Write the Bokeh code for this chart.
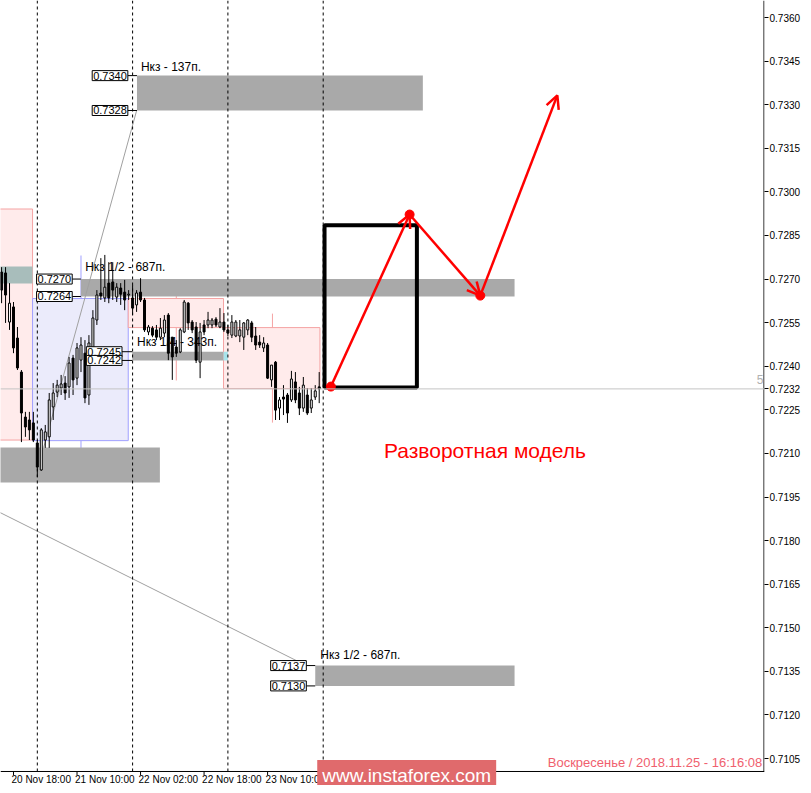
from bokeh.plotting import figure
from bokeh.models import (Range1d, FixedTicker, PrintfTickFormatter, Label, Arrow,
                          OpenHead, ColumnDataSource, Span)
from bokeh.core.properties import value
from bokeh.embed import file_html
from bokeh.resources import INLINE

# ---------------- data (time in hours from 20 Nov 00:00, prices) ----------------
hours = list(range(15, 96))
opens = [0.72724, 0.72721, 0.72552, 0.72604, 0.72497, 0.72380, 0.72225, 0.72215, 0.72205, 0.72136,
         0.72043, 0.72146, 0.72157, 0.72260, 0.72311, 0.72325, 0.72342, 0.72329, 0.72428, 0.72359,
         0.72421, 0.72445, 0.72301, 0.72456, 0.72559, 0.72652, 0.72635, 0.72686, 0.72690, 0.72638,
         0.72669, 0.72655, 0.72645, 0.72635, 0.72611, 0.72655, 0.72628, 0.72518, 0.72531, 0.72525,
         0.72500, 0.72514, 0.72576, 0.72500, 0.72466, 0.72449, 0.72518, 0.72617, 0.72552, 0.72535,
         0.72414, 0.72542, 0.72542, 0.72542, 0.72562, 0.72535, 0.72552, 0.72525, 0.72507, 0.72504,
         0.72504, 0.72500, 0.72525, 0.72549, 0.72504, 0.72483, 0.72463, 0.72473, 0.72353, 0.72414,
         0.72256, 0.72294, 0.72301, 0.72284, 0.72346, 0.72308, 0.72256, 0.72301, 0.72256, 0.72294,
         0.72329]
highs = [0.72741, 0.72741, 0.72686, 0.72621, 0.72535, 0.72387, 0.72243, 0.72243, 0.72243, 0.72146,
         0.72187, 0.72198, 0.72308, 0.72342, 0.72353, 0.72370, 0.72366, 0.72432, 0.72439, 0.72480,
         0.72500, 0.72490, 0.72507, 0.72593, 0.72662, 0.72772, 0.72783, 0.72758, 0.72758, 0.72686,
         0.72686, 0.72697, 0.72662, 0.72679, 0.72662, 0.72703, 0.72635, 0.72542, 0.72538, 0.72542,
         0.72566, 0.72576, 0.72583, 0.72500, 0.72490, 0.72531, 0.72628, 0.72621, 0.72559, 0.72552,
         0.72549, 0.72559, 0.72587, 0.72566, 0.72569, 0.72600, 0.72583, 0.72542, 0.72576, 0.72559,
         0.72559, 0.72552, 0.72562, 0.72556, 0.72535, 0.72507, 0.72500, 0.72480, 0.72404, 0.72418,
         0.72294, 0.72335, 0.72308, 0.72384, 0.72380, 0.72329, 0.72363, 0.72325, 0.72325, 0.72335,
         0.72380]
lows = [0.72617, 0.72549, 0.72525, 0.72445, 0.72387, 0.72139, 0.72157, 0.72146, 0.72139, 0.72019,
        0.72040, 0.72119, 0.72119, 0.72215, 0.72294, 0.72301, 0.72284, 0.72291, 0.72301, 0.72335,
        0.72380, 0.72273, 0.72267, 0.72439, 0.72542, 0.72628, 0.72621, 0.72617, 0.72628, 0.72621,
        0.72611, 0.72593, 0.72628, 0.72576, 0.72587, 0.72621, 0.72518, 0.72507, 0.72500, 0.72490,
        0.72490, 0.72500, 0.72421, 0.72353, 0.72432, 0.72445, 0.72514, 0.72525, 0.72514, 0.72411,
        0.72359, 0.72507, 0.72531, 0.72531, 0.72535, 0.72531, 0.72518, 0.72504, 0.72497, 0.72500,
        0.72483, 0.72456, 0.72507, 0.72483, 0.72456, 0.72463, 0.72449, 0.72356, 0.72329, 0.72215,
        0.72215, 0.72232, 0.72205, 0.72277, 0.72273, 0.72232, 0.72243, 0.72232, 0.72239, 0.72284,
        0.72273]
closes = [0.72662, 0.72645, 0.72617, 0.72463, 0.72394, 0.72239, 0.72191, 0.72181, 0.72146, 0.72053,
          0.72181, 0.72174, 0.72284, 0.72308, 0.72335, 0.72339, 0.72308, 0.72411, 0.72353, 0.72463,
          0.72473, 0.72291, 0.72480, 0.72566, 0.72645, 0.72642, 0.72672, 0.72635, 0.72662, 0.72672,
          0.72648, 0.72628, 0.72648, 0.72600, 0.72652, 0.72628, 0.72525, 0.72535, 0.72507, 0.72500,
          0.72531, 0.72559, 0.72445, 0.72432, 0.72445, 0.72525, 0.72621, 0.72549, 0.72525, 0.72421,
          0.72518, 0.72518, 0.72559, 0.72559, 0.72542, 0.72552, 0.72525, 0.72514, 0.72552, 0.72552,
          0.72525, 0.72549, 0.72559, 0.72500, 0.72473, 0.72473, 0.72480, 0.72359, 0.72404, 0.72249,
          0.72284, 0.72287, 0.72239, 0.72356, 0.72284, 0.72256, 0.72335, 0.72239, 0.72284, 0.72315,
          0.72322]

x_tick_hours = [18, 34, 50, 66, 82]
x_tick_labels = ["20 Nov 18:00", "21 Nov 10:00", "22 Nov 02:00", "22 Nov 18:00", "23 Nov 10:00"]
day_separators = [24, 48, 72, 96]
y_ticks = [0.7105, 0.7120, 0.7135, 0.7150, 0.7165, 0.7180, 0.7195, 0.7210, 0.7225, 0.7240,
           0.7255, 0.7270, 0.7285, 0.7300, 0.7315, 0.7330, 0.7345, 0.7360]

# zones (start hour, end hour, upper price, lower price)
zone_start = [49.1, 34.97, 47.9, 94.0, 14.0]
zone_end = [121.1, 144.2, 70.9, 144.2, 54.87]
zone_top = [0.7340, 0.7270, 0.7245, 0.7137, 0.7212]
zone_bottom = [0.7328, 0.7264, 0.7242, 0.7130, 0.7200]
zone_names = ["Нкз - 137п.", "Нкз 1/2 - 687п.", "Нкз 1/4 - 343п.", "Нкз 1/2 - 687п.", ""]
zone_label_end = [46.8, 32.79, 45.33, 91.75, None]
zone_name_pos = [(50.1, 0.73431), (36.05, 0.72740), (49.1, 0.72485), (95.25, 0.71405)]

# daily candle overlay boxes (start, end, top, bottom) and wicks
day_start = [10.0, 22.8, 46.9, 70.9]
day_end = [22.8, 46.9, 70.9, 95.18]
day_top = [0.72941, 0.72633, 0.72633, 0.72533]
day_bottom = [0.72146, 0.72144, 0.72533, 0.72323]
day_fill = ["#ffebeb", "#ebebfb", "#ffebeb", "#ffebeb"]
day_line = ["#f5a3a3", "#a0a0ff", "#f5a3a3", "#f5a3a3"]
day_wick_t = [35.0, 59.0, 83.22]
day_wick_hi = [0.72781, 0.72692, 0.72581]
day_wick_lo = [0.72053, 0.72351, 0.72206]
day_wick_color = ["#a0a0ff", "#f5a3a3", "#f5a3a3"]

# trend lines (start hour, start price, end hour, end price)
tl_t0 = [10.0, 25.59]
tl_p0 = [0.71928, 0.72120]
tl_t1 = [91.75, 49.02]
tl_p1 = [0.7137, 0.7328]

# forecast pattern
pattern_t = [97.94, 117.77, 135.57, 154.97]
pattern_p = [0.72330, 0.72922, 0.72643, 0.73332]
box_t = [96.34, 119.6]
box_p = [0.72885, 0.72327]

FONT = "Liberation Sans"
X0, X1 = 14.727, 207.15
Y0, Y1 = 0.709573, 0.736585
AXIS_Y = 0.710055

p = figure(width=803, height=785, x_range=Range1d(X0, X1), y_range=Range1d(Y0, Y1),
           y_axis_location="right", x_axis_location=None,
           output_backend="svg", toolbar_location=None,
           min_border_left=0, min_border_top=0, min_border_right=36, min_border_bottom=0)
p.outline_line_color = None
p.grid.visible = False
p.background_fill_color = "white"
p.border_fill_color = "white"

# right price axis
p.yaxis.ticker = FixedTicker(ticks=y_ticks + [closes[-1]])
p.yaxis.formatter = PrintfTickFormatter(format="%.4f")
p.yaxis.major_tick_out = 4
p.yaxis.major_tick_in = 0
p.yaxis.minor_tick_line_color = None
p.yaxis.major_label_standoff = 1
p.yaxis.major_label_text_font = FONT
p.yaxis.major_label_text_font_size = "10px"
p.yaxis.major_label_text_color = "black"
p.yaxis.axis_line_color = None

# daily overlay wicks and boxes
p.segment(x0=day_wick_t, y0=day_wick_lo, x1=day_wick_t, y1=day_wick_hi,
          line_color=day_wick_color, line_width=1)
p.quad(left=day_start, right=day_end, top=day_top, bottom=day_bottom,
       fill_color=day_fill, line_color=day_line, line_width=1)
p.quad(left=[10.0], right=[22.8], top=[0.72743], bottom=[0.72685],
       fill_color="#a8bdbb", line_color=None)

# zones
p.quad(left=zone_start, right=zone_end, top=zone_top, bottom=zone_bottom,
       fill_color="#a9a9a9", line_color=None)
p.quad(left=[70.9], right=[72.0], top=[0.7245], bottom=[0.7242],
       fill_color="#a8e4ec", line_color=None)

# current price line
p.add_layout(Span(location=closes[-1], dimension="width", line_color="#c4c4c4", line_width=1))

# trend lines
p.segment(x0=tl_t0, y0=tl_p0, x1=tl_t1, y1=tl_p1, line_color="#a0a0a0", line_width=1)

# day separators
p.segment(x0=day_separators, y0=[AXIS_Y] * len(day_separators), x1=day_separators,
          y1=[Y1] * len(day_separators), line_color="black", line_width=1, line_dash="3 3")

# candles
fills = ["white" if c >= o else "black" for o, c in zip(opens, closes)]
src = ColumnDataSource(dict(h=hours, o=opens, hi=highs, lo=lows, c=closes,
                            top=[max(o, c) for o, c in zip(opens, closes)],
                            bot=[min(o, c) for o, c in zip(opens, closes)], fill=fills))
p.segment(x0="h", y0="lo", x1="h", y1="hi", source=src, line_color="black", line_width=1)
p.vbar(x="h", width=0.5, top="top", bottom="bot", source=src, fill_color="fill",
       line_color="black", line_width=1)

# zone price labels and connectors
for zs, zt, zb, le in zip(zone_start, zone_top, zone_bottom, zone_label_end):
    if le is None:
        continue
    p.segment(x0=[le, le], y0=[zt, zb], x1=[zs, zs], y1=[zt, zb], line_color="black", line_width=1)
    for pr in (zt, zb):
        p.add_layout(Label(x=le, y=pr, text=f"{pr:.4f}", text_align="right",
                           text_baseline="middle", text_font=FONT, text_font_size="11px",
                           text_color="black", border_line_color="black",
                           background_fill_color="white", padding=1))
for (t, pr), name in zip(zone_name_pos, zone_names):
    p.add_layout(Label(x=t, y=pr, text=name, text_align="left", text_baseline="middle",
                       text_font=FONT, text_font_size="12px", text_color="black"))

# forecast box and arrows
p.quad(left=[box_t[0]], right=[box_t[1]], top=[box_p[0]], bottom=[box_p[1]],
       fill_color=None, line_color="black", line_width=4)
asrc = ColumnDataSource(dict(x0=pattern_t[:-1], y0=pattern_p[:-1], x1=pattern_t[1:], y1=pattern_p[1:]))
p.add_layout(Arrow(x_start="x0", y_start="y0", x_end="x1", y_end="y1", source=asrc,
                   line_color="red", line_width=2.5,
                   end=OpenHead(size=13, line_color="red", line_width=2.5)))
p.scatter(pattern_t[:3], pattern_p[:3], size=9, color="red")

# frame lines: bottom time axis line and right price axis line
p.segment(x0=[X0, X1 - 0.13], y0=[AXIS_Y, AXIS_Y], x1=[X1, X1 - 0.13], y1=[AXIS_Y, Y1],
          line_color="black", line_width=1)
# time axis ticks and labels
p.segment(x0=x_tick_hours, y0=[AXIS_Y] * len(x_tick_hours), x1=x_tick_hours,
          y1=[AXIS_Y - 0.00012] * len(x_tick_hours), line_color="black", line_width=1)
p.text(x=x_tick_hours, y=[AXIS_Y - 0.00026] * len(x_tick_hours), text=x_tick_labels,
       text_font=value(FONT), text_font_size=value("10px"), text_color="black",
       text_align="left", text_baseline="middle", x_offset=-2)

# texts
p.add_layout(Label(x=111.3, y=0.72110, text="Разворотная модель", text_align="left",
                   text_baseline="middle", text_font=FONT, text_font_size="21px", text_color="red"))
p.add_layout(Label(x=206.6, y=0.71037, text="Воскресенье / 2018.11.25 - 16:16:08",
                   text_align="right", text_baseline="middle", text_font=FONT,
                   text_font_size="13px", text_color="#f0606e"))
p.add_layout(Label(x=206.9, y=0.72354, text="5", text_align="right", text_baseline="middle",
                   text_font=FONT, text_font_size="12px", text_color="#b0b0b0"))
p.add_layout(Label(x=94.5, y=0.70992, text="www.instaforex.com", text_align="left",
                   text_baseline="middle", text_font=FONT, text_font_size="19px",
                   text_color="white", background_fill_color="#e06a6c", padding=5))

open("out.html", "w").write(file_html(p, INLINE))
